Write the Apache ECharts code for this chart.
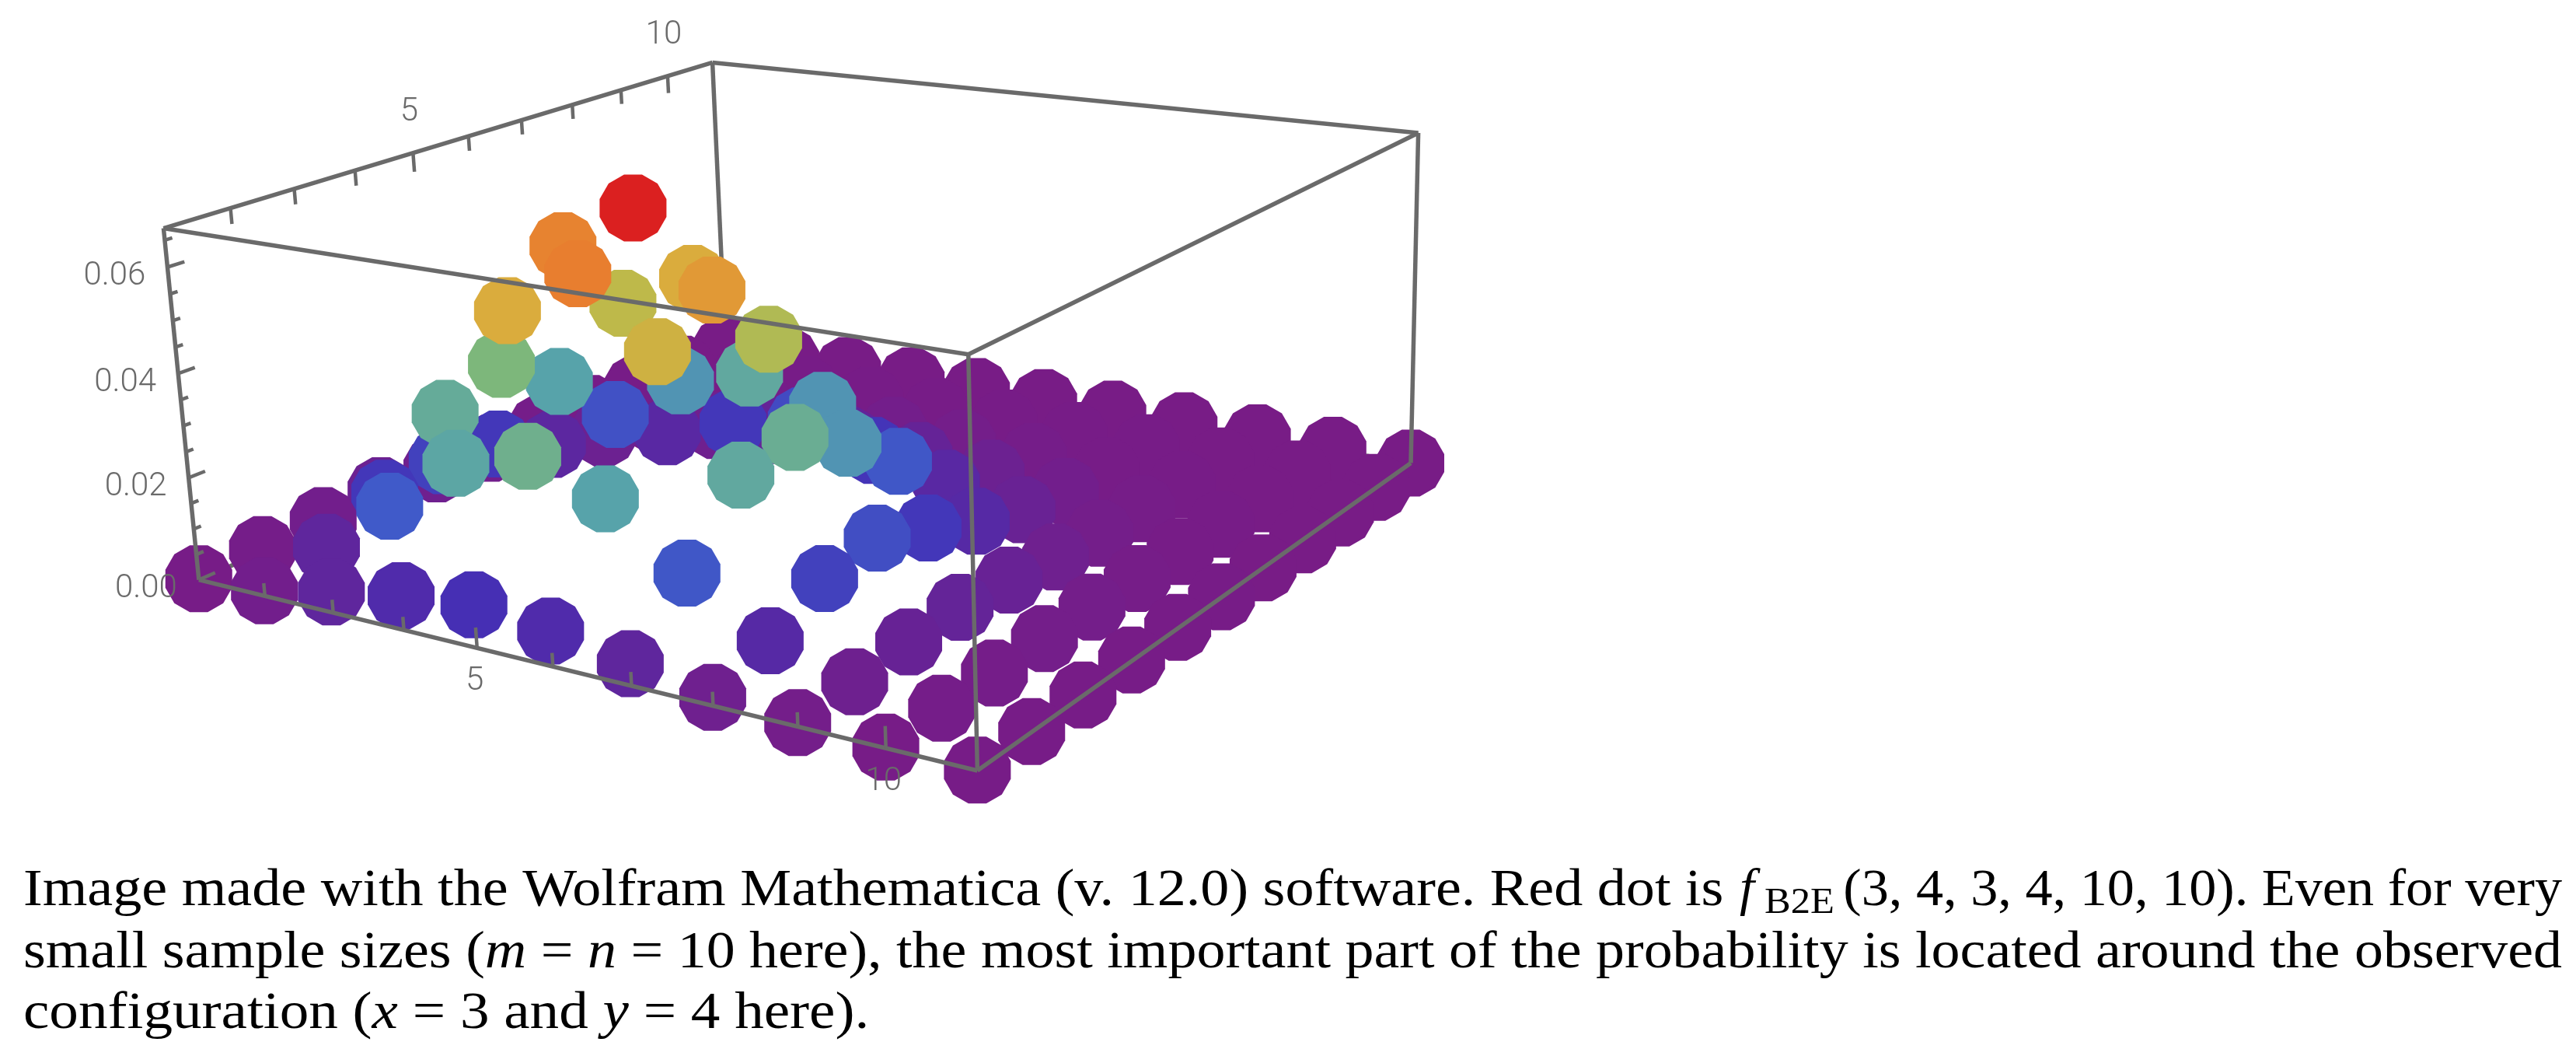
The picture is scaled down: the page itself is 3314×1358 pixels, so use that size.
<!DOCTYPE html>
<html>
<head>
<meta charset="utf-8">
<style>
  html, body { margin: 0; padding: 0; background: #fff; }
  #chart { width: 3314px; height: 1358px; }
</style>
<script src="https://cdn.jsdelivr.net/npm/echarts@6/dist/echarts.min.js"></script>
</head>
<body>
<div id="chart"></div>
<script>
// probability, one row per j (back axis), columns i (front axis) 1..11
const row1 = [.0002,.001,.004,.0065,.008,.0065,.004,.0015,.0007,.0002,.0001];
const row2 = [.0005,.004,.015,.026,.03,.025,.0145,.0055,.0016,.0005,.0001];
const row3 = [.001,.0095,.028,.05,.059,.047,.027,.011,.0027,.0005,.0001];
const row4 = [.002,.011,.033,.0582,.0672,.054,.029,.013,.0032,.0007,.0002];
const row5 = [.0015,.0095,.025,.043,.05,.0405,.023,.0095,.0026,.0007,.0002];
const row6 = [.001,.0045,.0135,.023,.027,.023,.0145,.0055,.0015,.0004,.0001];
const row7 = [.0005,.002,.005,.0095,.0125,.009,.005,.0025,.0007,.0001,0];
const row8 = [.0002,.0006,.0015,.003,.0035,.003,.002,.001,.0003,.0001,0];
const row9 = [.0001,.0002,.0005,.0007,.0008,.0007,.0005,.0002,.0001,0,0];
const row10 = [0,.0001,.0001,.0002,.0002,.0002,.0001,.0001,0,0,0];
const row11 = [0,0,0,0,0,0,0,0,0,0,0];
const rows = [row1,row2,row3,row4,row5,row6,row7,row8,row9,row10,row11];

const zTop = 0.0672;
const gridTicks = [2,3,4,5,6,7,8,9,10];
const gridLabels = [5,10];
const zMinorTicks = [0.005,0.01,0.015,0.025,0.03,0.035,0.045,0.05,0.055,0.065];
const zLabels = [0,0.02,0.04,0.06];
const rainbow = ['#781C86','#4430B6','#3F66CE','#58A4A9','#80B878','#BABB4C','#DCAB3C','#E8802F','#DB2020'];

// camera calibration: box corners and a few ticks measured in the picture [i,j,z,px,py]
const calib = [
  [1,1,zTop,211,292],[11,1,zTop,1245,457],[11,11,zTop,1825,171],[1,11,zTop,916,81],
  [1,1,0,254,746],[11,1,0,1258,990],[11,11,0,1815,595],
  [5,1,0,613,834],[1,5,zTop,532,196],[1,1,0.02,245,614],[1,1,0.04,231,482],[1,1,0.06,213,343]
];

function solve(A, b) {
  const n = b.length;
  for (let c = 0; c < n; c++) {
    let p = c;
    for (let r = c + 1; r < n; r++) if (Math.abs(A[r][c]) > Math.abs(A[p][c])) p = r;
    [A[c], A[p]] = [A[p], A[c]];
    [b[c], b[p]] = [b[p], b[c]];
    for (let r = c + 1; r < n; r++) {
      const f = A[r][c] / A[c][c];
      for (let k = c; k < n; k++) A[r][k] -= f * A[c][k];
      b[r] -= f * b[c];
    }
  }
  const x = new Array(n).fill(0);
  for (let r = n - 1; r >= 0; r--) {
    let s = b[r];
    for (let k = r + 1; k < n; k++) s -= A[r][k] * x[k];
    x[r] = s / A[r][r];
  }
  return x;
}

function fitCamera() {
  const N = Array.from({length: 11}, () => new Array(11).fill(0));
  const B = new Array(11).fill(0);
  calib.forEach(([i, j, z, px, py]) => {
    const Z = z / zTop, u = px / 1000, v = py / 1000;
    const eqs = [
      [[i,j,Z,1,0,0,0,0,-u*i,-u*j,-u*Z], u],
      [[0,0,0,0,i,j,Z,1,-v*i,-v*j,-v*Z], v]
    ];
    eqs.forEach(([a, t]) => {
      for (let r = 0; r < 11; r++) {
        B[r] += a[r] * t;
        for (let c = 0; c < 11; c++) N[r][c] += a[r] * a[c];
      }
    });
  });
  return solve(N, B);
}
const cam = fitCamera();

function project(i, j, z) {
  const Z = z / zTop;
  const w = cam[8]*i + cam[9]*j + cam[10]*Z + 1;
  return {
    x: 1000 * (cam[0]*i + cam[1]*j + cam[2]*Z + cam[3]) / w,
    y: 1000 * (cam[4]*i + cam[5]*j + cam[6]*Z + cam[7]) / w,
    w
  };
}

function seg(a, b, width) {
  const p = project(a[0], a[1], a[2]), q = project(b[0], b[1], b[2]);
  return [p.x, p.y, q.x, q.y, width];
}

// dots, far ones first
const dots = [];
rows.forEach((row, jj) => row.forEach((z, ii) => {
  const p = project(ii + 1, jj + 1, z);
  dots.push({value: [p.x, p.y, z, ii + 1, jj + 1], w: p.w});
}));
dots.sort((a, b) => b.w - a.w);

const frameW = 5.5, tickW = 4.5;
const backLines = [
  seg([1,11,zTop],[1,11,0],frameW),
  seg([1,11,0],[1,1,0],frameW),
  seg([1,11,0],[11,11,0],frameW)
];
const frontLines = [
  seg([1,1,zTop],[11,1,zTop],frameW),
  seg([11,1,zTop],[11,11,zTop],frameW),
  seg([11,11,zTop],[1,11,zTop],frameW),
  seg([1,11,zTop],[1,1,zTop],frameW),
  seg([1,1,zTop],[1,1,0],frameW),
  seg([11,1,zTop],[11,1,0],frameW),
  seg([11,11,zTop],[11,11,0],frameW),
  seg([1,1,0],[11,1,0],frameW),
  seg([11,1,0],[11,11,0],frameW)
];
gridTicks.forEach(t => {
  const major = gridLabels.indexOf(t) >= 0;
  frontLines.push(seg([t,1,0],[t,1,major ? 0.0038 : 0.0025],tickW));
  frontLines.push(seg([1,t,zTop],[1,t,zTop - (major ? 0.0038 : 0.003)],tickW));
});
zLabels.forEach(z => frontLines.push(seg([1,1,z],[1,1.25,z],tickW)));
zMinorTicks.forEach(z => frontLines.push(seg([1,1,z],[1,1.11,z],tickW)));

function tickLabel(pt, text, dx, dy) {
  const p = project(pt[0], pt[1], pt[2]);
  return {text, value: [p.x, p.y, dx, dy]};
}
const labels = [];
gridLabels.forEach(t => {
  labels.push(tickLabel([t,1,0], String(t), -3, 43));
  labels.push(tickLabel([1,t,zTop], String(t), -5, -52));
});
zLabels.forEach(z => labels.push(tickLabel([1,1,z], z.toFixed(2), -68, 12)));

function lineSeries(data, z) {
  return {
    type: 'custom',
    silent: true,
    z,
    data,
    renderItem(params, api) {
      const a = api.coord([api.value(0), api.value(1)]);
      const b = api.coord([api.value(2), api.value(3)]);
      return {
        type: 'line',
        shape: {x1: a[0], y1: a[1], x2: b[0], y2: b[1]},
        style: {stroke: '#6a6a6a', lineWidth: api.value(4)}
      };
    }
  };
}

// twelve sided dot
let dotPath = 'path://';
for (let k = 0; k < 12; k++) {
  const t = (15 + 30 * k) * Math.PI / 180;
  dotPath += (k ? 'L' : 'M') + (50 + 50 * Math.cos(t)).toFixed(2) + ' ' + (50 + 50 * Math.sin(t)).toFixed(2);
}
dotPath += 'Z';

const serif = '"Liberation Serif", serif';
const capColor = '#000';
function cap(x, y, text, scaleX, extra) {
  return {
    type: 'text',
    silent: true,
    x, y,
    scaleX,
    style: Object.assign({
      text, fill: capColor, fontFamily: serif, fontSize: 68,
      verticalAlign: 'middle', align: 'left',
      rich: {
        i: {fontFamily: serif, fontSize: 68, fontStyle: 'italic', fill: capColor},
        n: {fontFamily: serif, fontSize: 68, fill: capColor}
      }
    }, extra || {})
  };
}

const chart = echarts.init(document.getElementById('chart'));
chart.setOption({
  animation: false,
  backgroundColor: '#fff',
  grid: {left: 0, right: 0, top: 0, bottom: 0},
  xAxis: {type: 'value', min: 0, max: 3314, show: false},
  yAxis: {type: 'value', min: 0, max: 1358, inverse: true, show: false},
  visualMap: {
    show: false,
    type: 'continuous',
    seriesIndex: 1,
    dimension: 2,
    min: 0,
    max: zTop,
    inRange: {color: rainbow}
  },
  series: [
    lineSeries(backLines, 1),
    {
      type: 'scatter',
      silent: true,
      z: 2,
      symbol: dotPath,
      symbolSize: 86,
      encode: {x: 0, y: 1},
      itemStyle: {opacity: 1},
      data: dots.map(d => ({value: d.value}))
    },
    lineSeries(frontLines, 3),
    {
      type: 'custom',
      silent: true,
      z: 4,
      data: labels.map(l => l.value),
      renderItem(params, api) {
        const p = api.coord([api.value(0), api.value(1)]);
        return {
          type: 'text',
          x: p[0] + api.value(2),
          y: p[1] + api.value(3),
          style: {
            text: labels[params.dataIndex].text,
            fill: '#6a6a6a',
            fontFamily: 'Roboto',
            fontWeight: 300,
            fontSize: 42,
            align: 'center',
            verticalAlign: 'middle'
          }
        };
      }
    }
  ],
  graphic: [
    cap(30, 1146, 'Image made with the Wolfram Mathematica (v. 12.0) software. Red dot is', 1.09),
    cap(2238, 1146, 'f', 1, {fontStyle: 'italic'}),
    cap(2270, 1162, 'B2E', 1.1, {fontSize: 46}),
    cap(3296, 1146, '(3, 4, 3, 4, 10, 10). Even for very', 1.033, {align: 'right'}),
    cap(30, 1226, '{n|small sample sizes (}{i|m}{n| = }{i|n}{n| = 10 here), the most important part of the probability is located around the observed}', 1.088),
    cap(30, 1304, '{n|configuration (}{i|x}{n| = 3 and }{i|y}{n| = 4 here).}', 1.105)
  ]
});
</script>
</body>
</html>
